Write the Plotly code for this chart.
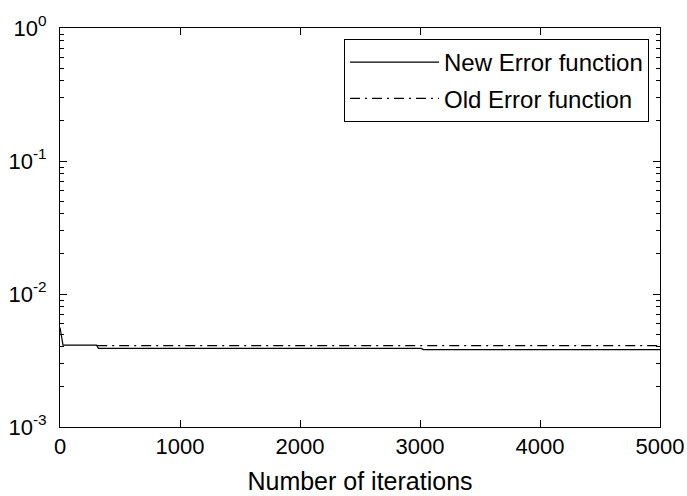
import plotly.graph_objects as go

# Data
new_iter = [0, 8, 16, 25, 305, 320, 3010, 3030, 5000]
new_err = [5.6e-3, 5.0e-3, 4.3e-3, 4.12e-3, 4.12e-3, 3.9e-3, 3.9e-3, 3.82e-3, 3.82e-3]

old_iter = [310, 5000]
old_err = [4.09e-3, 4.09e-3]

x_ticks = [0, 1000, 2000, 3000, 4000, 5000]
y_ticks = [1e-3, 1e-2, 1e-1, 1e0]
y_ticktext = ["10<sup>-3</sup>", "10<sup>-2</sup>", "10<sup>-1</sup>", "10<sup>0</sup>"]
y_minor = [m * d for d in [1e-3, 1e-2, 1e-1] for m in range(2, 10)]

FONT = "Liberation Sans, Arial, sans-serif"

fig = go.Figure()
fig.add_trace(go.Scatter(
    x=new_iter, y=new_err, mode="lines", name="New Error function",
    legendgroup="new",
    line=dict(color="black", width=1.2, dash="solid"),
))
fig.add_trace(go.Scatter(
    x=old_iter, y=old_err, mode="lines", name="Old Error function",
    legendgroup="old",
    line=dict(color="black", width=1.2, dash="10px,5px,2px,5px"),
))

fig.update_layout(
    width=687, height=496,
    margin=dict(l=60, r=27, t=28, b=69, autoexpand=False),
    paper_bgcolor="white", plot_bgcolor="white",
    font=dict(family=FONT, size=22, color="black"),
    showlegend=True,
    legend=dict(
        x=0.9817, y=0.9724, xanchor="right", yanchor="top",
        bgcolor="white", bordercolor="black", borderwidth=1,
        font=dict(family=FONT, size=24, color="black"),
        itemwidth=89, tracegroupgap=2,
    ),
    xaxis=dict(
        range=[0, 5000], tickvals=x_ticks, ticks="inside", ticklen=7,
        tickcolor="black", tickwidth=1, showline=True, linecolor="black",
        linewidth=1, mirror="ticks", showgrid=False, zeroline=False,
        ticklabeloverflow="allow", automargin=False,
        title=dict(text="Number of iterations", standoff=14,
                   font=dict(family=FONT, size=25, color="black")),
        tickfont=dict(family=FONT, size=22, color="black"),
    ),
    yaxis=dict(
        type="log", range=[-3, 0], tickvals=y_ticks, ticktext=y_ticktext,
        ticks="inside", ticklen=7, tickcolor="black", tickwidth=1,
        showline=True, linecolor="black", linewidth=1, mirror="ticks",
        showgrid=False, zeroline=False, ticklabelstandoff=8,
        ticklabeloverflow="allow", automargin=False,
        tickfont=dict(family=FONT, size=22, color="black"),
        minor=dict(tickvals=y_minor, ticks="inside", ticklen=4,
                   tickcolor="black", tickwidth=1, showgrid=False),
    ),
)

# remove the browser's default body margin so the figure fills the window exactly
fig.write_html("out.html", config={"displayModeBar": False},
               post_script="document.body.style.margin='0';")
